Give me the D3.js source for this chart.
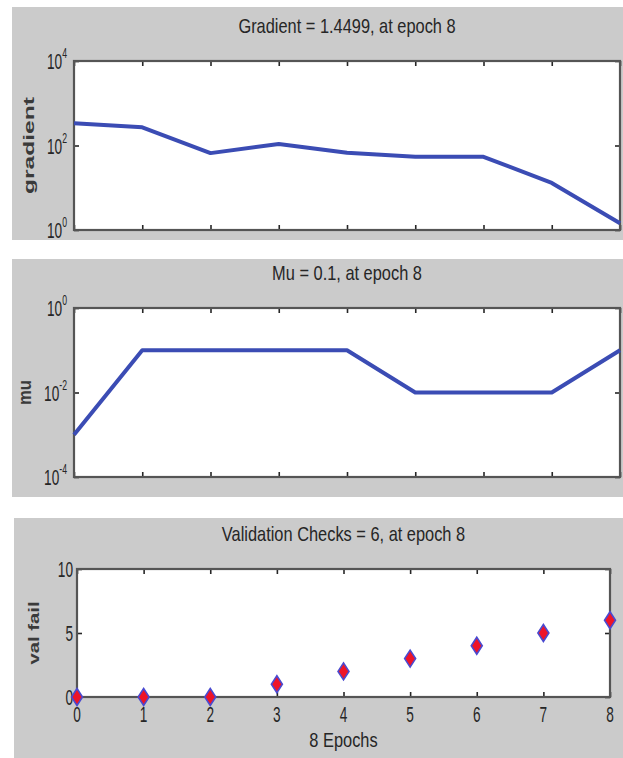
<!DOCTYPE html>
<html>
<head>
<meta charset="utf-8">
<script src="https://cdn.jsdelivr.net/npm/d3@7"></script>
<style>
  body { margin: 0; background: #fff; }
  text { font-family: "Liberation Sans", Arial, sans-serif; }
</style>
</head>
<body>
<div id="chart"></div>
<script>
// data
const epochs = [0, 1, 2, 3, 4, 5, 6, 7, 8];
const gradientValues = [336, 270, 66, 109, 67, 54, 54, 13, 1.4499];
const muValues = [0.001, 0.1, 0.1, 0.1, 0.1, 0.01, 0.01, 0.01, 0.1];
const valFailValues = [0, 0, 0, 1, 2, 3, 4, 5, 6];

const titles = ["Gradient = 1.4499, at epoch 8", "Mu = 0.1, at epoch 8", "Validation Checks = 6, at epoch 8"];
const yLabels = ["gradient", "mu", "val fail"];
const gradientTicks = [1, 100, 10000];
const muTicks = [1e-4, 1e-2, 1];
const valFailTicks = [0, 5, 10];
const xLabel = "8 Epochs";

const W = 623, H = 758;
const svg = d3.select("#chart").append("svg").attr("width", W).attr("height", H);
svg.append("rect").attr("width", W).attr("height", H).attr("fill", "#fff");

const GRAY = "#cbcbcb", BLUE = "#3b4cb4", INK = "#262626";

// the source text is tall and narrow, so squeeze it sideways
function squeezed(g, x, y, str, size, anchor, sx) {
    return g.append("text")
        .attr("transform", `translate(${x},${y}) scale(${sx},1)`)
        .attr("text-anchor", anchor)
        .attr("font-size", size)
        .attr("fill", INK)
        .text(str);
}

function drawPanel(p) {
    const g = svg.append("g");
    g.append("rect").attr("x", p.bg[0]).attr("y", p.bg[1]).attr("width", p.bg[2]).attr("height", p.bg[3]).attr("fill", GRAY);

    const x = d3.scaleLinear().domain([0, 8]).range([p.left, p.right]);
    const y = (p.log ? d3.scaleLog() : d3.scaleLinear()).domain(p.domain).range([p.bottom, p.top]);

    g.append("rect").attr("x", p.left).attr("y", p.top)
        .attr("width", p.right - p.left).attr("height", p.bottom - p.top).attr("fill", "#fff");

    // inside ticks on all four sides
    const axes = [
        [d3.axisTop(x).tickValues(epochs), `translate(0,${p.top})`],
        [d3.axisBottom(x).tickValues(epochs), `translate(0,${p.bottom})`],
        [d3.axisLeft(y).tickValues(p.ticks), `translate(${p.left},0)`],
        [d3.axisRight(y).tickValues(p.ticks), `translate(${p.right},0)`]
    ];
    axes.forEach(([ax, tr]) => {
        const a = g.append("g").attr("transform", tr).call(ax.tickSize(-5).tickFormat(""));
        a.select(".domain").remove();
        a.selectAll("line").attr("stroke", INK).attr("stroke-width", 1.6);
    });

    g.append("rect").attr("x", p.left).attr("y", p.top)
        .attr("width", p.right - p.left).attr("height", p.bottom - p.top)
        .attr("fill", "none").attr("stroke", "#555").attr("stroke-width", 2.2);

    // y tick labels
    p.ticks.forEach(t => {
        if (p.log) {
            const txt = squeezed(g, p.left - 7, y(t) + 8, "10", 22, "end", 0.62);
            txt.append("tspan").attr("dy", -11).attr("font-size", 14).text(Math.round(Math.log10(t)));
        } else {
            squeezed(g, p.left - 4, y(t) + 8, String(t), 22, "end", 0.62);
        }
    });

    // title and y label
    squeezed(g, (p.left + p.right) / 2, p.titleY, p.title, 20, "middle", 0.82);
    g.append("text")
        .attr("transform", `translate(${p.labelX},${(p.top + p.bottom) / 2}) rotate(-90)`)
        .attr("text-anchor", "middle").attr("font-size", p.labelSize)
        .attr("font-weight", "bold")
        .attr("textLength", p.labelLen).attr("lengthAdjust", "spacingAndGlyphs")
        .attr("fill", "#3a3a3a").text(p.ylab);

    const pts = epochs.map((e, i) => ({ e, v: p.values[i] }));
    if (p.markers) {
        g.selectAll(".mk").data(pts).join("path")
            .attr("transform", d => `translate(${x(d.e)},${y(d.v)})`)
            .attr("d", "M0,-8.5L5.5,0L0,8.5L-5.5,0Z")
            .attr("fill", "#ee1428").attr("stroke", "#4a4ad0").attr("stroke-width", 1.6);

        epochs.forEach(e => squeezed(g, x(e), p.bottom + 25, String(e), 22, "middle", 0.62));
        squeezed(g, (p.left + p.right) / 2, p.bottom + 50, xLabel, 20, "middle", 0.82);
    } else {
        g.append("path").datum(pts)
            .attr("d", d3.line().x(d => x(d.e)).y(d => y(d.v)))
            .attr("fill", "none").attr("stroke", BLUE).attr("stroke-width", 4)
            .attr("stroke-linejoin", "round");
    }
}

const panels = [
    { bg: [12, 7, 611, 233], left: 74, right: 620, top: 61, bottom: 230, titleY: 33, labelX: 34, labelLen: 97, labelSize: 15,
      title: titles[0], ylab: yLabels[0], values: gradientValues, ticks: gradientTicks, log: true, domain: [1, 1e4] },
    { bg: [12, 259, 611, 238], left: 74, right: 620, top: 308, bottom: 477, titleY: 280, labelX: 31, labelLen: 25, labelSize: 18,
      title: titles[1], ylab: yLabels[1], values: muValues, ticks: muTicks, log: true, domain: [1e-4, 1] },
    { bg: [14, 518, 609, 240], left: 77, right: 610, top: 569, bottom: 697, titleY: 541, labelX: 39, labelLen: 63, labelSize: 15,
      title: titles[2], ylab: yLabels[2], values: valFailValues, ticks: valFailTicks, log: false, domain: [0, 10], markers: true }
];
panels.forEach(drawPanel);

// the source is cropped between panels
svg.append("rect").attr("x", 0).attr("y", 240).attr("width", W).attr("height", 19).attr("fill", "#fff");
</script>
</body>
</html>
